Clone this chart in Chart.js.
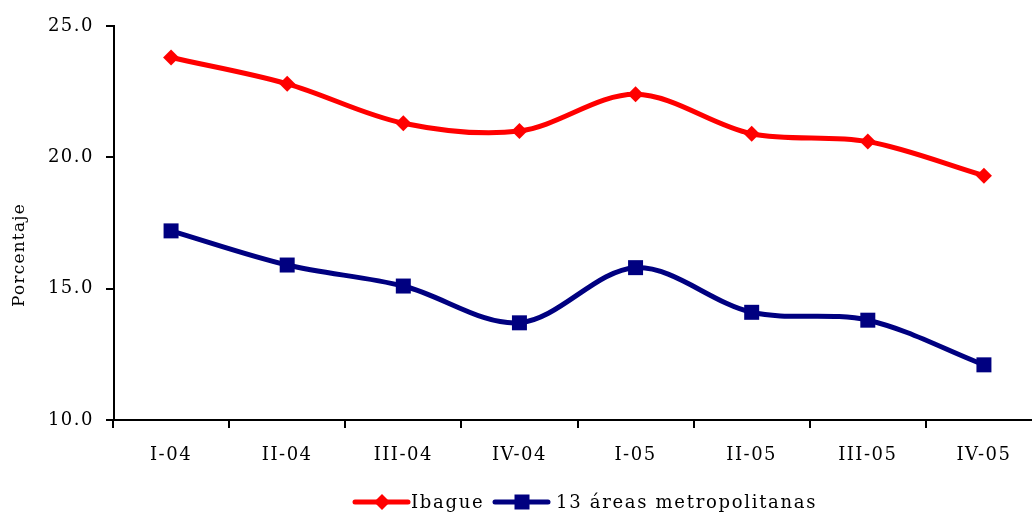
<!DOCTYPE html>
<html>
<head>
<meta charset="utf-8">
<script src="https://cdn.jsdelivr.net/npm/chart.js@4/dist/chart.umd.min.js"></script>
<style>
html,body{margin:0;padding:0;background:#fff;overflow:hidden;}
</style>
</head>
<body>
<canvas id="c" width="1032" height="513"></canvas>
<script>
const categories = ['I-04','II-04','III-04','IV-04','I-05','II-05','III-05','IV-05'];
const ibague = [23.8, 22.8, 21.3, 21.0, 22.4, 20.9, 20.6, 19.3];
const areas13 = [17.2, 15.9, 15.1, 13.7, 15.8, 14.1, 13.8, 12.1];
const seriesNames = ['Ibague', '13 áreas metropolitanas'];
const yTitle = 'Porcentaje';
const FONT = '"DejaVu Serif", serif';
const X_AXIS_EXTENT = 929; // x axis runs past the right edge of the picture

const customPlugin = {
  id: 'custom',
  afterLayout(chart) {
    const x = chart.scales.x;
    x.left = chart.chartArea.left - 1;
    x.right = x.left + X_AXIS_EXTENT;
    x.width = X_AXIS_EXTENT;
    x.configure();
  },
  beforeDraw(chart) {
    chart.ctx.letterSpacing = '1.5px';
  },
  afterDraw(chart) {
    const ctx = chart.ctx;
    ctx.save();
    ctx.letterSpacing = '1.2px';
    ctx.font = '17px ' + FONT;
    ctx.fillStyle = '#000';
    ctx.textAlign = 'center';
    ctx.textBaseline = 'middle';
    ctx.translate(20, 255);
    ctx.rotate(-Math.PI / 2);
    ctx.fillText(yTitle, 0, 0);
    ctx.restore();

    ctx.save();
    ctx.letterSpacing = '1.7px';
    ctx.font = '18px ' + FONT;
    ctx.textBaseline = 'middle';
    ctx.textAlign = 'left';
    const y = 502;
    const items = [
      {x: 355, ds: chart.data.datasets[0], style: 'diamond'},
      {x: 495, ds: chart.data.datasets[1], style: 'square'}
    ];
    items.forEach(it => {
      ctx.strokeStyle = it.ds.borderColor;
      ctx.fillStyle = it.ds.borderColor;
      ctx.lineWidth = 5;
      ctx.lineCap = 'round';
      ctx.beginPath();
      ctx.moveTo(it.x, y);
      ctx.lineTo(it.x + 53, y);
      ctx.stroke();
      const cx = it.x + 27;
      ctx.beginPath();
      if (it.style === 'diamond') {
        ctx.moveTo(cx - 8, y); ctx.lineTo(cx, y - 8); ctx.lineTo(cx + 8, y); ctx.lineTo(cx, y + 8);
        ctx.closePath();
      } else {
        ctx.rect(cx - 7.5, y - 7.5, 15, 15);
      }
      ctx.fill();
      ctx.fillStyle = '#000';
      ctx.fillText(it.ds.label, it.x + (it.style === 'diamond' ? 56 : 61), y + 1);
    });
    ctx.restore();
  }
};

new Chart(document.getElementById('c'), {
  type: 'line',
  data: {
    labels: categories,
    datasets: [
      {
        label: seriesNames[0], data: ibague,
        borderColor: '#FF0000', backgroundColor: '#FF0000',
        borderWidth: 5, tension: 0.33, clip: false,
        pointStyle: 'rectRot', pointRadius: 8, pointBorderWidth: 0
      },
      {
        label: seriesNames[1], data: areas13,
        borderColor: '#000080', backgroundColor: '#000080',
        borderWidth: 5, tension: 0.33, clip: false,
        pointStyle: 'rect', pointRadius: 10.6, pointBorderWidth: 0
      }
    ]
  },
  options: {
    responsive: false,
    animation: false,
    layout: {padding: {left: 0, right: 0, top: 26, bottom: 38}},
    plugins: {legend: {display: false}, tooltip: {enabled: false}},
    scales: {
      x: {
        offset: true,
        grid: {offset: true, drawOnChartArea: false, color: '#000', lineWidth: 2, tickLength: 8},
        border: {color: '#000', width: 2},
        ticks: {color: '#000', font: {family: FONT, size: 18}, padding: 17, maxRotation: 0, autoSkip: false},
        afterFit: s => { s.height = 55; }
      },
      y: {
        min: 10, max: 25,
        grid: {drawOnChartArea: false, color: '#000', lineWidth: 2, tickLength: 8},
        border: {color: '#000', width: 2},
        ticks: {stepSize: 5, color: '#000', font: {family: FONT, size: 18}, padding: 12,
          callback: v => Number(v).toFixed(1)},
        afterFit: s => { s.width = 114; }
      }
    }
  },
  plugins: [customPlugin]
});
</script>
</body>
</html>
